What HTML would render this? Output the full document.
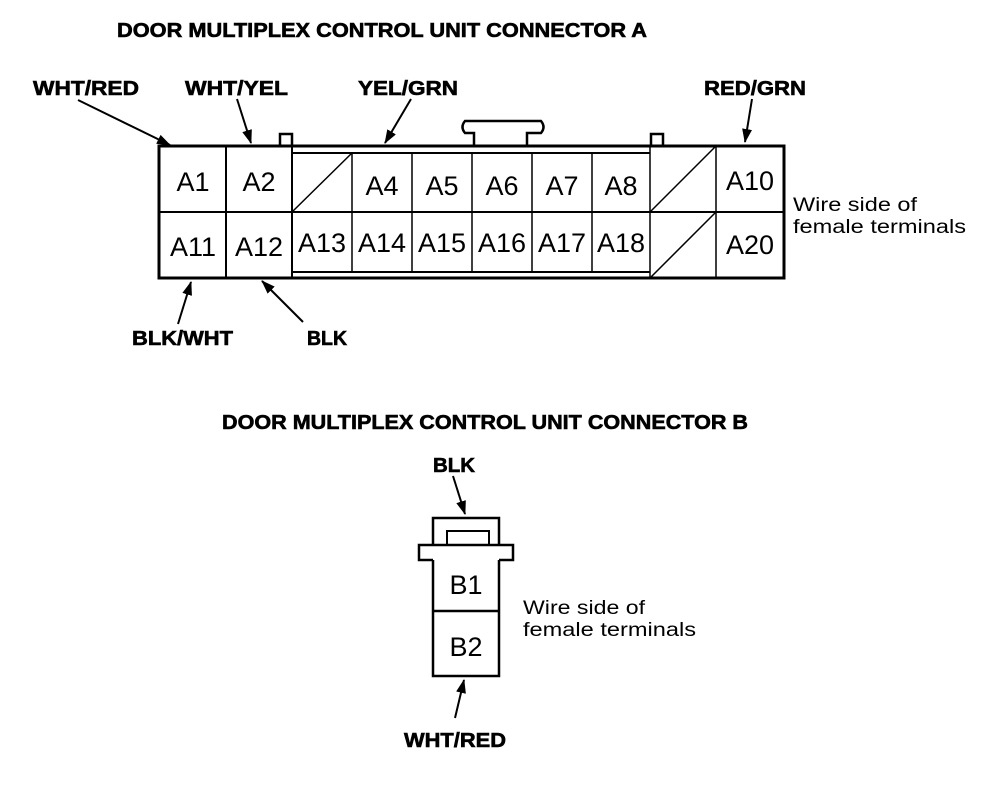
<!DOCTYPE html>
<html><head><style>html,body{margin:0;padding:0;background:#fff}svg{display:block}</style></head>
<body>
<svg width="1008" height="808" viewBox="0 0 1008 808" xmlns="http://www.w3.org/2000/svg" font-family="Liberation Sans, sans-serif">
<defs><marker id="ah" markerWidth="14" markerHeight="10" refX="13" refY="5" orient="auto" markerUnits="userSpaceOnUse"><path d="M0,0 L14,5 L0,10 Z"/></marker></defs>
<g font-weight="bold" font-size="20" stroke="#000" stroke-width="0.6">
<text x="117" y="37" textLength="530" lengthAdjust="spacingAndGlyphs">DOOR MULTIPLEX CONTROL UNIT CONNECTOR A</text>
<text x="33" y="95" textLength="106" lengthAdjust="spacingAndGlyphs">WHT/RED</text>
<text x="185" y="95" textLength="103" lengthAdjust="spacingAndGlyphs">WHT/YEL</text>
<text x="358" y="95" textLength="100" lengthAdjust="spacingAndGlyphs">YEL/GRN</text>
<text x="704" y="95" textLength="102" lengthAdjust="spacingAndGlyphs">RED/GRN</text>
<text x="132" y="345" textLength="101" lengthAdjust="spacingAndGlyphs">BLK/WHT</text>
<text x="307" y="345" textLength="40" lengthAdjust="spacingAndGlyphs">BLK</text>
<text x="222" y="429" textLength="526" lengthAdjust="spacingAndGlyphs">DOOR MULTIPLEX CONTROL UNIT CONNECTOR B</text>
<text x="433" y="472" textLength="42" lengthAdjust="spacingAndGlyphs">BLK</text>
<text x="404" y="747" textLength="102" lengthAdjust="spacingAndGlyphs">WHT/RED</text>
</g>
<g font-size="19">
<text x="793" y="211" textLength="124" lengthAdjust="spacingAndGlyphs">Wire side of</text>
<text x="793" y="233" textLength="173" lengthAdjust="spacingAndGlyphs">female terminals</text>
<text x="523" y="614" textLength="122" lengthAdjust="spacingAndGlyphs">Wire side of</text>
<text x="523" y="636" textLength="173" lengthAdjust="spacingAndGlyphs">female terminals</text>
</g>
<g stroke="#000" fill="none">
<rect x="159" y="146" width="625" height="132" stroke-width="3"/>
<path d="M280,146 V134 H292 V146 M651,146 V134 H663 V146" stroke-width="2.5"/>
<path d="M474,146 V133 H465 Q460,127 465,121 H541 Q546,127 541,133 H527 V146" stroke-width="2.5"/>
<path d="M226,146 V278 M292,146 V278 M159,212 H784" stroke-width="2"/>
<path d="M292,153 H650 M292,272 H650" stroke-width="2"/>
<path d="M352,153 V272 M412,153 V272 M472,153 V272 M532,153 V272 M592,153 V272 M650,146 V278 M716,146 V278" stroke-width="1.5"/>
<path d="M292,212 L352,153 M650,212 L716,146 M650,278 L716,212" stroke-width="1.5"/>
<path d="M433,545 V518 H499 V545" stroke-width="2.5"/>
<path d="M447,545 V531 H489 V545" stroke-width="2"/>
<path d="M433,560 H419 V545 H513 V560 H499" stroke-width="2.5"/>
<path d="M433,560 V676 H499 V560 M433,611 H499" stroke-width="2.5"/>
<g stroke-width="2" marker-end="url(#ah)">
<line x1="78" y1="100" x2="170" y2="145"/>
<line x1="237" y1="99" x2="251" y2="143"/>
<line x1="411" y1="99" x2="385" y2="143"/>
<line x1="752" y1="99" x2="745" y2="142"/>
<line x1="178" y1="324" x2="191" y2="282"/>
<line x1="303" y1="322" x2="262" y2="281"/>
<line x1="453" y1="476" x2="465" y2="514"/>
<line x1="455" y1="718" x2="464" y2="680"/>
</g>
</g>
<g font-size="27" text-anchor="middle">
<text x="193" y="191">A1</text><text x="259" y="191">A2</text>
<text x="382" y="195">A4</text><text x="442" y="195">A5</text><text x="502" y="195">A6</text><text x="562" y="195">A7</text><text x="621" y="195">A8</text>
<text x="750" y="190">A10</text>
<text x="193" y="256">A11</text><text x="259" y="256">A12</text>
<text x="322" y="252">A13</text><text x="382" y="252">A14</text><text x="442" y="252">A15</text><text x="502" y="252">A16</text><text x="562" y="252">A17</text><text x="621" y="252">A18</text>
<text x="750" y="254">A20</text>
<text x="466" y="594">B1</text><text x="466" y="656">B2</text>
</g>
</svg>
</body></html>
